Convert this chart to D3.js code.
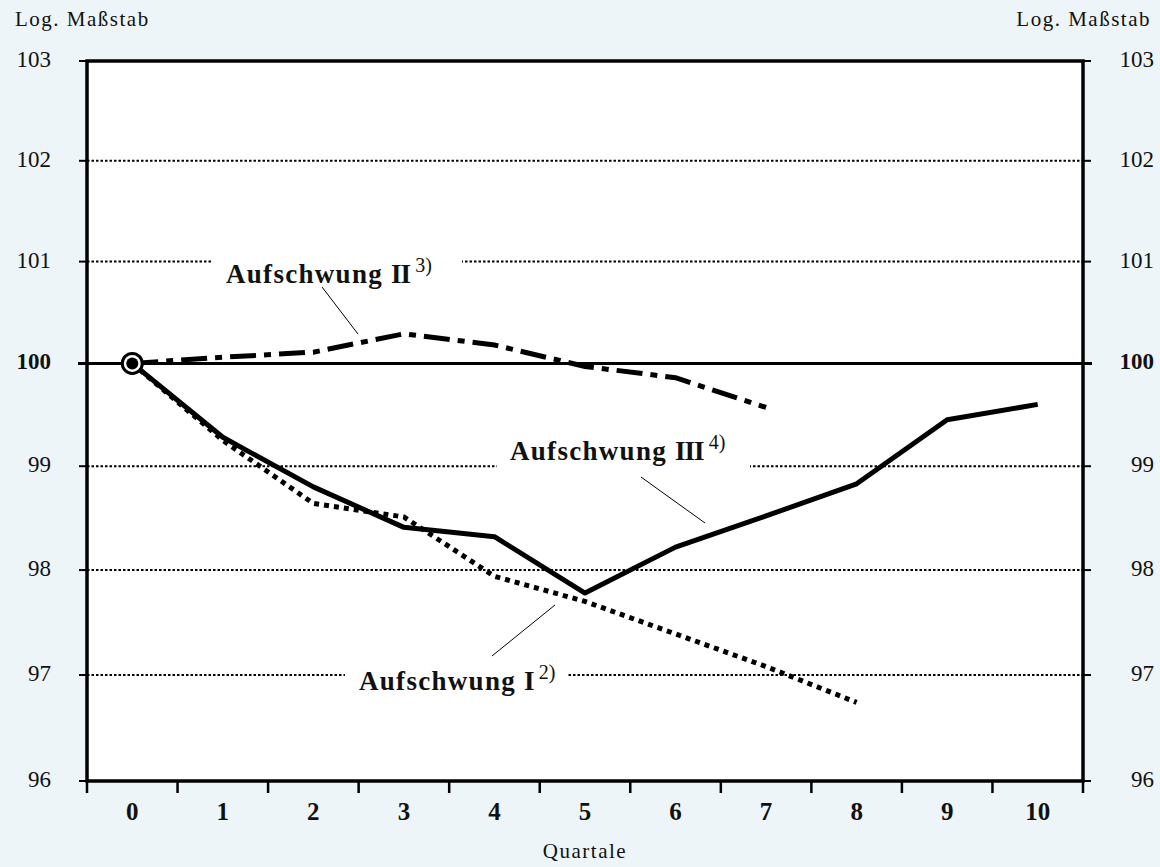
<!DOCTYPE html>
<html>
<head>
<meta charset="utf-8">
<script src="https://cdn.jsdelivr.net/npm/d3@7"></script>
<style>
  html, body { margin: 0; padding: 0; background: #edf5f8; }
  svg { display: block; }
  text { font-family: "Liberation Serif", "Times New Roman", serif; fill: #111; }
</style>
</head>
<body>
<svg id="chart" width="1160" height="867"></svg>
<script>
// ---- data ----
const quarters = [0, 1, 2, 3, 4, 5, 6, 7, 8, 9, 10];
const yTicks = [96, 97, 98, 99, 100, 101, 102, 103];
const aufschwungI   = [100, 99.25, 98.64, 98.51, 97.94, 97.70, 97.39, 97.08, 96.74];
const aufschwungII  = [100, 100.06, 100.11, 100.29, 100.18, 99.97, 99.86, 99.57];
const aufschwungIII = [100, 99.28, 98.80, 98.41, 98.32, 97.78, 98.22, 98.52, 98.83, 99.45, 99.60];
const axisTitleY = "Log. Maßstab";
const axisTitleX = "Quartale";

(function () {
// ---- layout ----
const svg = d3.select("#chart");
const pL = 87, pR = 1083, pT = 61, pB = 781;

const x = d3.scaleBand().domain(quarters).range([pL, pR]).padding(0);
const y = d3.scaleLog().domain([96, 103]).range([pB, pT]);
const cx = d => x(d) + x.bandwidth() / 2;

// plot background
svg.append("rect").attr("x", pL).attr("y", pT).attr("width", pR - pL).attr("height", pB - pT).attr("fill", "#fff");

// gridlines (dotted)
svg.append("g").selectAll("line").data(yTicks.filter(v => v !== 100 && v !== 96 && v !== 103)).join("line")
  .attr("x1", pL).attr("x2", pR)
  .attr("y1", d => y(d)).attr("y2", d => y(d))
  .attr("stroke", "#000").attr("stroke-width", 2).attr("stroke-dasharray", "2.5,2");

// label backgrounds
const labels = [
  { name: "Aufschwung ", num: "II", sup: "3)", x: 226, y: 283, bx0: 213, bx1: 462 },
  { name: "Aufschwung ", num: "III", sup: "4)", x: 510, y: 460, bx0: 497, bx1: 750 },
  { name: "Aufschwung ", num: "I", sup: "2)", x: 359, y: 690, bx0: 345, bx1: 568 }
];
svg.append("g").selectAll("rect").data(labels).join("rect")
  .attr("x", d => d.bx0).attr("width", d => d.bx1 - d.bx0)
  .attr("y", d => d.y - 28).attr("height", 36).attr("fill", "#fff");

// 100 line
svg.append("line").attr("x1", pL - 9).attr("x2", pR + 9)
  .attr("y1", y(100)).attr("y2", y(100)).attr("stroke", "#000").attr("stroke-width", 3);

// y-tick marks both sides
const tickG = svg.append("g");
yTicks.forEach(v => {
  tickG.append("line").attr("x1", pL - 8).attr("x2", pL).attr("y1", y(v)).attr("y2", y(v)).attr("stroke", "#000").attr("stroke-width", 2);
  tickG.append("line").attr("x1", pR).attr("x2", pR + 8).attr("y1", y(v)).attr("y2", y(v)).attr("stroke", "#000").attr("stroke-width", 2);
});

// frame
svg.append("rect").attr("x", pL).attr("y", pT).attr("width", pR - pL).attr("height", pB - pT)
  .attr("fill", "none").attr("stroke", "#000").attr("stroke-width", 3.5);

// x axis ticks at band boundaries
const bounds = quarters.map(q => x(q)).concat([pR]);
svg.append("g").selectAll("line").data(bounds).join("line")
  .attr("x1", d => d).attr("x2", d => d).attr("y1", pB).attr("y2", pB + 12)
  .attr("stroke", "#000").attr("stroke-width", 2.5);

// x labels
svg.append("g").selectAll("text").data(quarters).join("text")
  .attr("x", d => cx(d)).attr("y", 820).attr("text-anchor", "middle")
  .attr("font-size", 25).attr("font-weight", "bold").text(d => d);

svg.append("text").attr("x", 585).attr("y", 858).attr("text-anchor", "middle")
  .attr("font-size", 21).attr("letter-spacing", 1.5).text(axisTitleX);

// y labels
svg.append("g").selectAll("text").data(yTicks).join("text")
  .attr("x", 51).attr("y", d => y(d) + 6).attr("text-anchor", "end")
  .attr("font-size", 23).attr("font-weight", d => d === 100 ? "bold" : "normal").text(d => d);
svg.append("g").selectAll("text").data(yTicks).join("text")
  .attr("x", 1154).attr("y", d => y(d) + 6).attr("text-anchor", "end")
  .attr("font-size", 23).attr("font-weight", d => d === 100 ? "bold" : "normal").text(d => d);

svg.append("text").attr("x", 15).attr("y", 26).attr("font-size", 21).attr("letter-spacing", 1.5).text(axisTitleY);
svg.append("text").attr("x", 1151).attr("y", 26).attr("text-anchor", "end").attr("font-size", 21).attr("letter-spacing", 1.5).text(axisTitleY);

// series lines
const line = d3.line().x((d, i) => cx(quarters[i])).y(d => y(d));
svg.append("path").datum(aufschwungI).attr("d", line).attr("fill", "none")
  .attr("stroke", "#000").attr("stroke-width", 5).attr("stroke-dasharray", "5,5");
svg.append("path").datum(aufschwungII).attr("d", line).attr("fill", "none")
  .attr("stroke", "#000").attr("stroke-width", 5).attr("stroke-dasharray", "26,8,7,8");
svg.append("path").datum(aufschwungIII).attr("d", line).attr("fill", "none")
  .attr("stroke", "#000").attr("stroke-width", 5).attr("stroke-linejoin", "round");

// start marker
svg.append("circle").attr("cx", cx(0)).attr("cy", y(100)).attr("r", 10).attr("fill", "#fff").attr("stroke", "#000").attr("stroke-width", 3);
svg.append("circle").attr("cx", cx(0)).attr("cy", y(100)).attr("r", 6).attr("fill", "#000");

// leader lines
const leaders = [[322, 287, 358, 334], [641, 477, 705, 523], [555, 605, 492, 656]];
svg.append("g").selectAll("line").data(leaders).join("line")
  .attr("x1", d => d[0]).attr("y1", d => d[1]).attr("x2", d => d[2]).attr("y2", d => d[3])
  .attr("stroke", "#000").attr("stroke-width", 1);

// labels
labels.forEach(l => {
  const t = svg.append("text").attr("x", l.x).attr("y", l.y).attr("font-size", 27).attr("font-weight", "bold").attr("letter-spacing", 1.3);
  t.append("tspan").text(l.name);
  t.append("tspan").attr("letter-spacing", -1).text(l.num);
  t.append("tspan").attr("dx", 5).attr("dy", -11).attr("font-weight", "normal").attr("font-size", 20).attr("letter-spacing", 0).text(l.sup);
});
})();
</script>
</body>
</html>
